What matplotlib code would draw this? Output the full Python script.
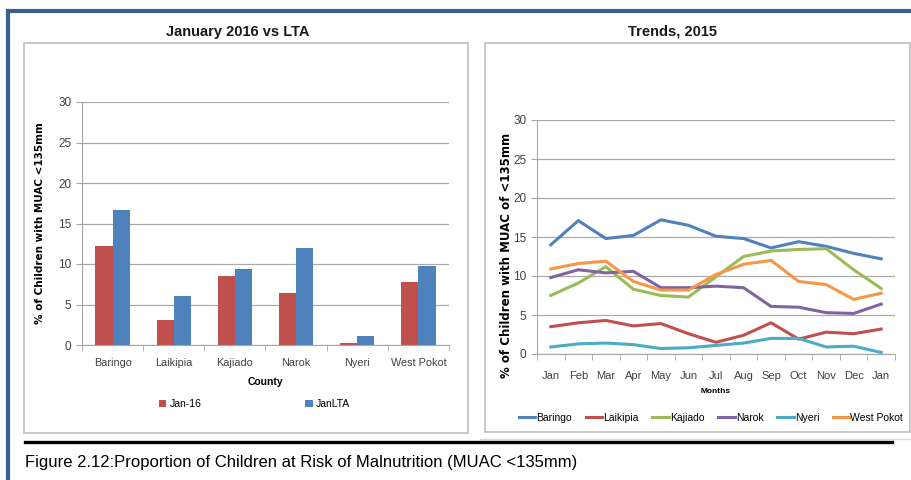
import numpy as np
import matplotlib.pyplot as plt
from matplotlib.patches import Rectangle
from matplotlib.lines import Line2D

counties = ['Baringo', 'Laikipia', 'Kajiado', 'Narok', 'Nyeri', 'West Pokot']
jan16 = [12.2, 3.1, 8.5, 6.4, 0.3, 7.8]
jan_lta = [16.7, 6.0, 9.4, 12.0, 1.1, 9.7]

months = ['Jan', 'Feb', 'Mar', 'Apr', 'May', 'Jun', 'Jul', 'Aug', 'Sep', 'Oct', 'Nov', 'Dec', 'Jan']
baringo = [14.0, 17.1, 14.8, 15.2, 17.2, 16.5, 15.1, 14.8, 13.6, 14.4, 13.8, 12.9, 12.2]
laikipia = [3.5, 4.0, 4.3, 3.6, 3.9, 2.6, 1.5, 2.4, 4.0, 1.9, 2.8, 2.6, 3.2]
kajiado = [7.5, 9.1, 11.2, 8.3, 7.5, 7.3, 9.9, 12.5, 13.2, 13.4, 13.5, 10.8, 8.4]
narok = [9.8, 10.8, 10.4, 10.6, 8.5, 8.5, 8.7, 8.5, 6.1, 6.0, 5.3, 5.2, 6.4]
nyeri = [0.9, 1.3, 1.4, 1.2, 0.7, 0.8, 1.1, 1.4, 2.0, 2.0, 0.9, 1.0, 0.2]
west_pokot = [10.9, 11.6, 11.9, 9.3, 8.2, 8.2, 10.2, 11.5, 12.0, 9.3, 8.9, 7.0, 7.8]

RED = '#C0504D'
BLUE = '#4F81BD'
line_colors = ['#4F81BD', '#C0504D', '#9BBB59', '#8064A2', '#4BACC6', '#F79646']
SANS = ['Liberation Sans', 'DejaVu Sans']

W, H = 912, 480


def px_rect(x0, y0, x1, y1):
    # pixel box (top-left origin) -> figure fraction rect
    return [x0 / W, 1 - y1 / H, (x1 - x0) / W, (y1 - y0) / H]


def style_axes(ax, n):
    ax.set_ylim(0, 30)
    ax.set_yticks(range(0, 31, 5))
    ax.set_xlim(-0.5, n - 0.5)
    ax.grid(axis='y', color='#ABABAB', lw=0.9)
    ax.set_axisbelow(True)
    for s in ['top', 'right']:
        ax.spines[s].set_visible(False)
    for s in ['left', 'bottom']:
        ax.spines[s].set_color('#A6A6A6')
    ax.tick_params(axis='y', colors='#A6A6A6', length=4, labelcolor='#404040')
    ax.tick_params(axis='x', which='major', length=0, labelcolor='#404040')
    ax.set_xticks(np.arange(-0.5, n, 1.0), minor=True)
    ax.tick_params(axis='x', which='minor', length=4, color='#A6A6A6')
    for lab in ax.get_yticklabels():
        lab.set_family(SANS)
        lab.set_fontsize(8.5)


fig = plt.figure(figsize=(W / 100, H / 100), dpi=100)

# page decoration: blue frame and chart boxes
fig.add_artist(Line2D([8 / W, 8 / W], [0, 1 - 11 / H], color='#3A5F8F', lw=3, transform=fig.transFigure))
fig.add_artist(Line2D([8 / W, 1], [1 - 11 / H, 1 - 11 / H], color='#3A5F8F', lw=3, transform=fig.transFigure))
for r in [px_rect(24, 43, 468, 433), px_rect(485, 43, 910, 432)]:
    fig.add_artist(Rectangle((r[0], r[1]), r[2], r[3], transform=fig.transFigure,
                             fill=False, ec='#BFBFBF', lw=1.2))
fig.add_artist(Line2D([480 / W, 1], [1 - 439 / H, 1 - 439 / H], color='#D9D9D9', lw=1, transform=fig.transFigure))
fig.add_artist(Line2D([25 / W, 892 / W], [1 - 442 / H, 1 - 442 / H], color='black', lw=2.4, transform=fig.transFigure))

fig.text(238 / W, 1 - 32 / H, 'January 2016 vs LTA', ha='center', va='center',
         fontsize=10.5, fontweight='bold', family=SANS, color='#1a1a1a')
fig.text(673 / W, 1 - 32 / H, 'Trends, 2015', ha='center', va='center',
         fontsize=10.5, fontweight='bold', family=SANS, color='#1a1a1a')
fig.text(25 / W, 1 - 462 / H, 'Figure 2.12:Proportion of Children at Risk of Malnutrition (MUAC <135mm)',
         ha='left', va='center', fontsize=12, family=SANS, color='black')

# left: bars
ax1 = fig.add_axes(px_rect(82, 102, 449, 345))
x = np.arange(len(counties))
bw = 0.28
ax1.bar(x - bw / 2, jan16, bw, color=RED, label='Jan-16')
ax1.bar(x + bw / 2, jan_lta, bw, color=BLUE, label='JanLTA')
style_axes(ax1, len(counties))
ax1.set_xticks(x)
ax1.set_xticklabels(counties, family=SANS, fontsize=7.8)
ax1.tick_params(axis='x', which='major', pad=9)
ax1.set_xlabel('County', fontsize=7.5, fontweight='bold', family=SANS, labelpad=7)
ax1.set_ylabel('% of Children with MUAC <135mm', fontsize=7.5, fontweight='bold')
ax1.yaxis.set_label_coords(-0.10, 0.5)
ax1.legend(loc='center', bbox_to_anchor=(0.47, (345 - 404) / 243), ncol=2, frameon=False,
           prop={'family': SANS, 'size': 7.5}, handlelength=0.7, handleheight=0.7,
           handletextpad=0.3, columnspacing=10)

# right: lines
ax2 = fig.add_axes(px_rect(537, 120, 895, 354))
series = [baringo, laikipia, kajiado, narok, nyeri, west_pokot]
xm = np.arange(len(months))
for vals, name, c in zip(series, counties, line_colors):
    ax2.plot(xm, vals, color=c, lw=2.2, label=name)
style_axes(ax2, len(months))
ax2.set_xticks(xm)
ax2.set_xticklabels(months, family=SANS, fontsize=8)
ax2.tick_params(axis='x', which='major', pad=12)
ax2.set_xlabel('Months', fontsize=6, fontweight='bold', family=SANS, labelpad=5)
ax2.set_ylabel('% of Children with MUAC of <135mm', fontsize=8.5, fontweight='bold')
ax2.yaxis.set_label_coords(-0.067, 0.42)
ax2.legend(loc='center', bbox_to_anchor=((711 - 537) / 358, (354 - 418) / 234), ncol=6, frameon=False,
           prop={'family': SANS, 'size': 7.5}, handlelength=1.6, handletextpad=0.1, columnspacing=1.3)

fig.savefig('out.png', dpi=100)
